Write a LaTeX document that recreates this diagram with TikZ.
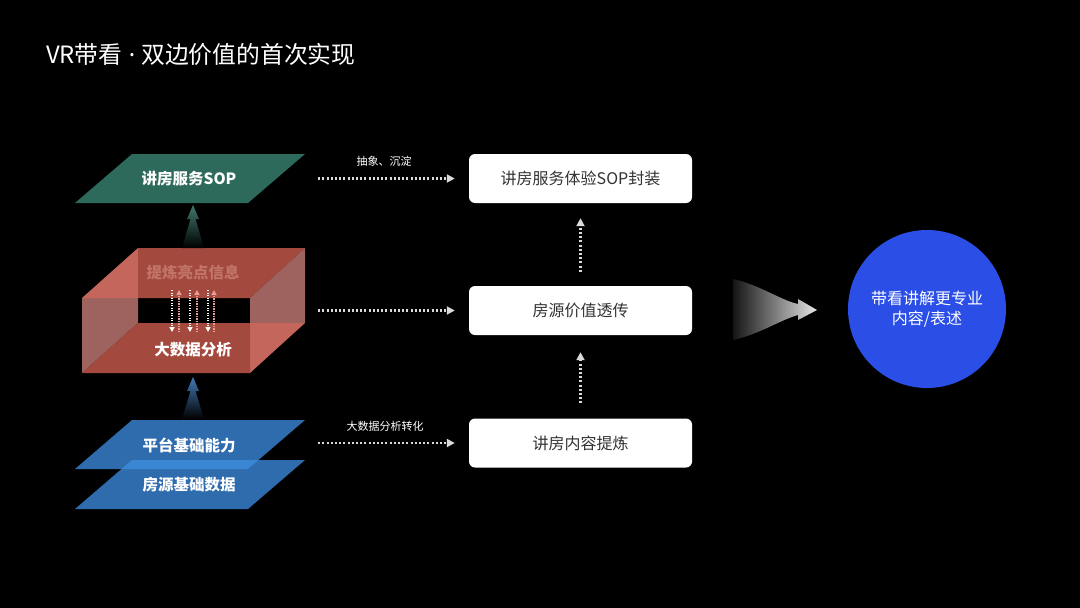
\documentclass[tikz,border=0pt]{standalone}
\usepackage{fontspec}
\setmainfont{Noto Sans CJK SC}
\newfontfamily\latinsans{Noto Sans}
\usetikzlibrary{arrows.meta,calc}
\definecolor{tealf}{HTML}{2D6A5C}
\definecolor{bluef}{HTML}{2F6CAE}
\definecolor{bluelap}{HTML}{3A86D2}
\definecolor{reddark}{HTML}{A4493E}
\definecolor{salmon}{HTML}{C4665B}
\definecolor{greypink}{HTML}{9E635F}
\definecolor{pinkarrow}{HTML}{E6A096}
\definecolor{pinktext}{HTML}{C27468}
\definecolor{boxtext}{HTML}{333333}
\definecolor{goalblue}{HTML}{2A4EE6}
\definecolor{dotgrey}{HTML}{DADADA}
\tikzset{
  lbl/.style={text=white, font=\fontsize{15.5}{18}\selectfont\bfseries},
  area/.style={minimum width=230pt, minimum height=49pt, inner sep=0pt},
  wbox/.style={fill=white, rounded corners=6pt, minimum width=223pt, minimum height=49pt,
    text=boxtext, font=\fontsize{16}{18}\selectfont, inner sep=0pt},
  small/.style={text=white, font=\fontsize{11}{13}\selectfont},
  dotarrow/.style={draw=dotgrey, line width=2.2pt, dash pattern=on 2pt off 2.2pt,
    -{Triangle[length=8pt,width=8pt,fill=dotgrey]}},
  innerdn/.style={draw=white, line width=1.2pt, dash pattern=on 1.2pt off 1.3pt,
    -{Triangle[length=5pt,width=5pt,fill=white]}},
  innerup/.style={draw=pinkarrow, line width=1.2pt, dash pattern=on 1.2pt off 1.3pt,
    -{Triangle[length=5pt,width=5pt,fill=pinkarrow]}},
}
\begin{document}
\begin{tikzpicture}[x=1pt,y=-1pt]
\fill[black] (0,0) rectangle (1080,608);
\useasboundingbox (0,0) rectangle (1080,608);

% title
\node[anchor=base west, text=white, font=\fontsize{23.8}{26}\selectfont, inner sep=0pt] (title) at (46,63) {VR带看{\latinsans\ · }双边价值的首次实现};

% ---- left column shapes ----
\fill[tealf] (132,154) -- (305,154) -- (248,203) -- (75,203) -- cycle;
\node[area] (sop) at (190,178.5) {};
\node[lbl] (soptxt) at (189,179) {讲房服务SOP};

\fill[bluef] (132,460) -- (305,460) -- (248,509) -- (75,509) -- cycle;
\fill[bluef] (132,420) -- (305,420) -- (248,469) -- (75,469) -- cycle;
\fill[bluelap] (132,460) -- (258.5,460) -- (248,469) -- (121.5,469) -- cycle;
\node[area] (plat) at (190,444.5) {};
\node[lbl] (plattxt) at (189,445) {平台基础能力};
\node[area] (house) at (190,484.5) {};
\node[lbl] (housetxt) at (189,485) {房源基础数据};

% cube
\fill[salmon] (82,298) -- (138,248) -- (138,298) -- cycle;
\fill[reddark] (138,248) -- (305,248) -- (250,298) -- (138,298) -- cycle;
\fill[greypink] (250,298) -- (305,248) -- (305,323) -- (250,323) -- cycle;
\fill[salmon] (250,323) -- (305,323) -- (250,373) -- cycle;
\fill[greypink] (82,298) -- (138,298) -- (138,323) -- (82,373) -- cycle;
\fill[reddark] (82,373) -- (138,323) -- (250,323) -- (250,373) -- cycle;
\node[minimum width=223pt, minimum height=125pt, inner sep=0pt] (cube) at (193.5,310.5) {};
\node[text=pinktext, font=\fontsize{15.5}{18}\selectfont\bfseries] (hl) at (193,273) {提炼亮点信息};
\node[lbl] (bd) at (193,350) {大数据分析};
\foreach \x in {172,190,208} \draw[innerdn] (\x,290) -- (\x,332);
\foreach \x in {179,197,214} \draw[innerup] (\x,332) -- (\x,290);

% gradient upward arrows
\shade[top color=tealf!90!white, bottom color=black]
  (182,248) -- (190.5,219) -- (187,219) -- (193,205) -- (199,219) -- (195.5,219) -- (204,248) -- cycle;
\shade[top color=bluef!90!white, bottom color=black]
  (182,419) -- (190.5,391) -- (187,391) -- (193,377) -- (199,391) -- (195.5,391) -- (204,419) -- cycle;

% ---- middle column ----
\node[wbox] (b1) at (580.5,178.5) {讲房服务体验SOP封装};
\node[wbox] (b2) at (580.5,310.5) {房源价值透传};
\node[wbox] (b3) at (580.5,443) {讲房内容提炼};

\draw[dotarrow, shorten <=13pt, shorten >=14pt] (sop.east) -- (b1.west);
\draw[dotarrow, shorten <=13pt, shorten >=14pt] (cube.east) -- (b2.west);
\draw[dotarrow, shorten <=13pt, shorten >=14pt] (plat.east |- b3.west) -- (b3.west);
\node[small] (l1) at (384,161) {抽象、沉淀};
\node[small] (l2) at (385,426) {大数据分析转化};

\draw[dotarrow, shorten <=15pt, shorten >=17pt] (b3.north) -- (b2.south);
\draw[dotarrow, shorten <=14pt, shorten >=15pt] (b2.north) -- (b1.south);

% ---- right: flared arrow and goal ----
\shade[left color=black!92!white, right color=white!90!black]
  (733,279) .. controls (760,285) and (780,300) .. (798,304) -- (798,299) -- (817,310) -- (798,320) -- (798,315)
  .. controls (780,320) and (760,334) .. (733,340) -- cycle;
\node[circle, fill=goalblue, minimum size=158pt, inner sep=0pt, text=white, align=center,
  font=\fontsize{16}{20}\selectfont] (goal) at (927,309) {带看讲解更专业\\内容/表述};
\end{tikzpicture}
\end{document}
